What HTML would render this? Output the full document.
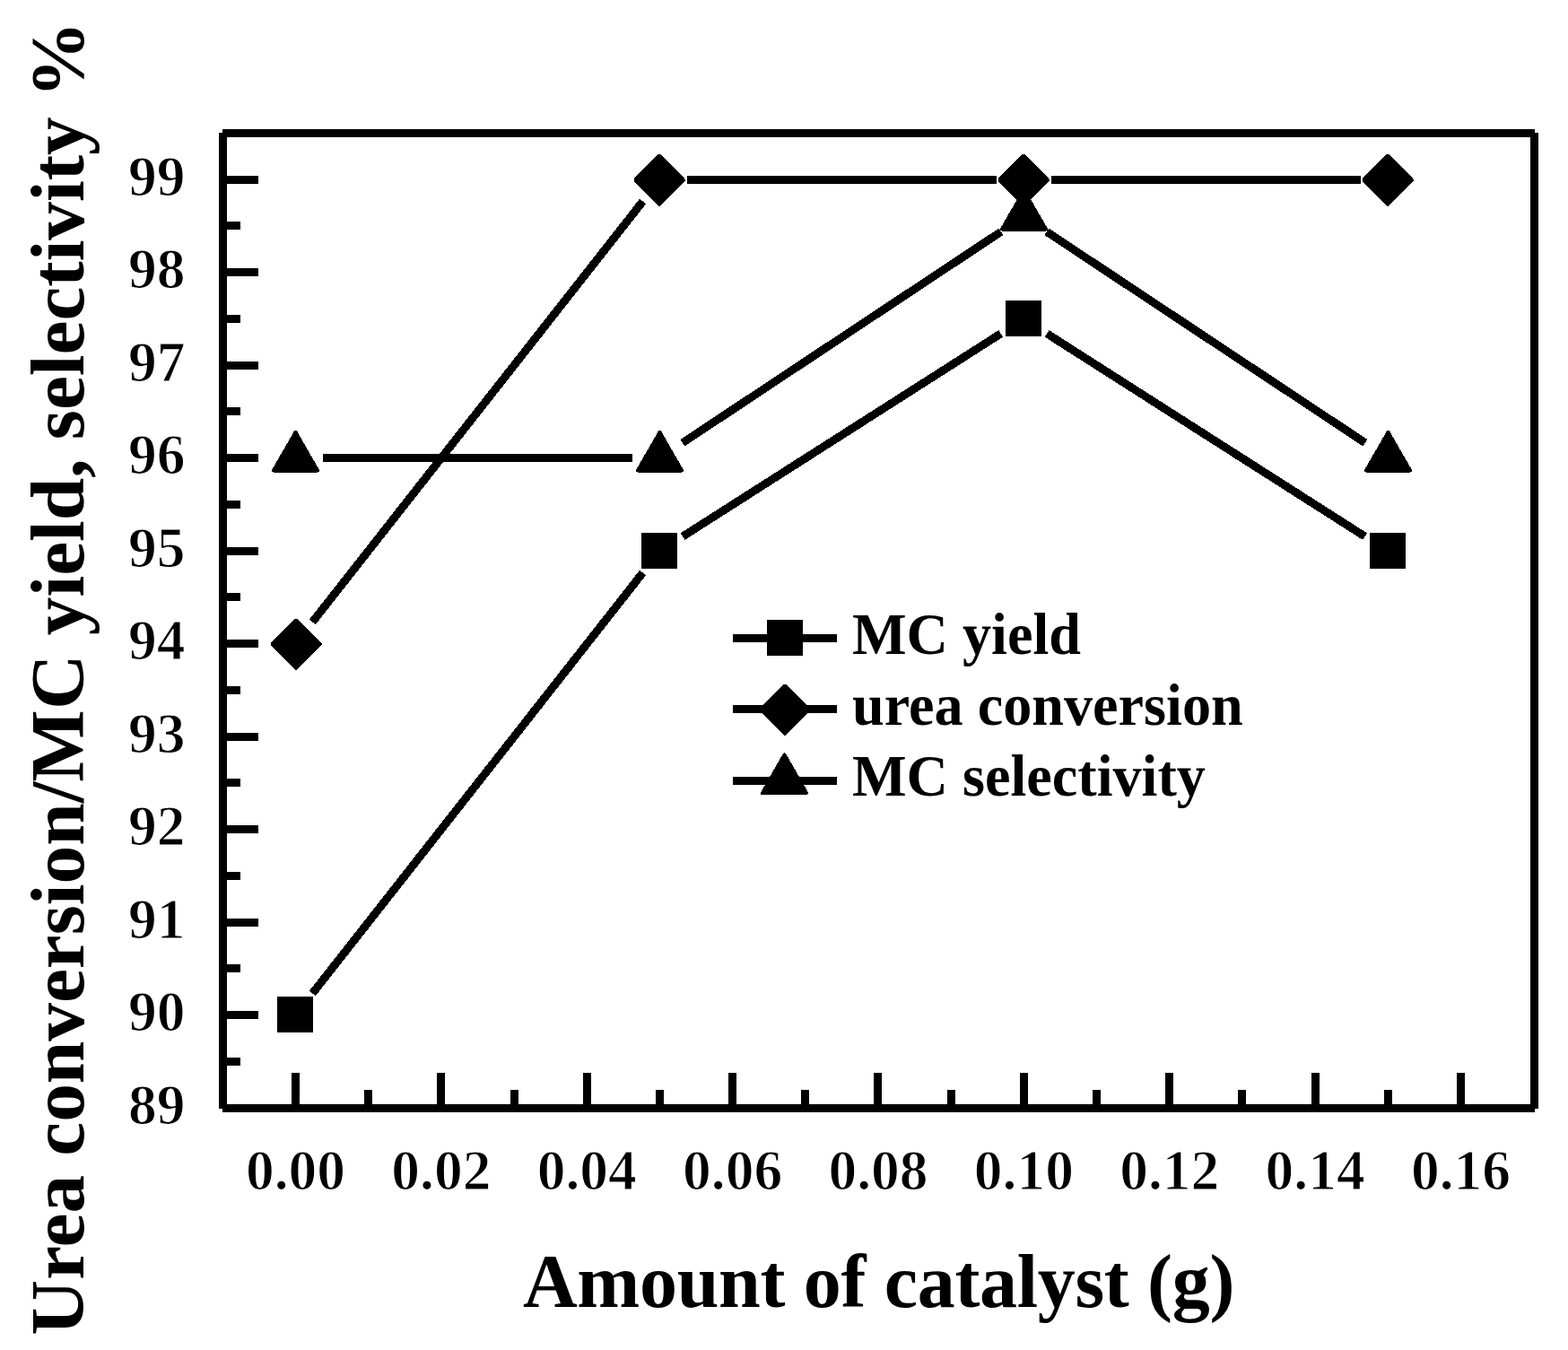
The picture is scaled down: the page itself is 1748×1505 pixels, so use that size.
<!DOCTYPE html>
<html lang="en"><head><meta charset="utf-8"><title>Urea conversion / MC yield, selectivity vs amount of catalyst</title>
<style>
html,body{margin:0;padding:0;background:#fff;}
body{width:1748px;height:1505px;overflow:hidden;}
svg{display:block;}
text{font-family:"Liberation Serif",serif;font-weight:bold;fill:#000;}
.ax rect,.tk rect,.ln line,.mk *{shape-rendering:crispEdges;}
.ln line{stroke:#000;stroke-width:9;stroke-linecap:butt;}
.mk *{fill:#000;stroke:#000;stroke-linejoin:round;}
.tl{font-size:63.5px;stroke:#fff;stroke-width:1.2px;}
.lg{font-size:64.2px;}
.ti{font-size:84px;}
.ty{font-size:85.3px;}
</style></head><body>
<svg width="1748" height="1505" viewBox="0 0 1748 1505">
<rect x="0" y="0" width="1748" height="1505" fill="#fff"/>
<g class="ax" fill="#000">
<rect x="244" y="148" width="9" height="1088"/>
<rect x="248" y="144" width="1463" height="9"/>
<rect x="1706" y="148" width="9" height="1088"/>
<rect x="248" y="1231" width="1463" height="9"/>
</g>
<g class="tk" fill="#000">
<rect x="253" y="1179" width="15" height="9"/>
<rect x="253" y="1127" width="35" height="9"/>
<rect x="253" y="1075" width="15" height="9"/>
<rect x="253" y="1024" width="35" height="9"/>
<rect x="253" y="972" width="15" height="9"/>
<rect x="253" y="920" width="35" height="9"/>
<rect x="253" y="868" width="15" height="9"/>
<rect x="253" y="817" width="35" height="9"/>
<rect x="253" y="765" width="15" height="9"/>
<rect x="253" y="713" width="35" height="9"/>
<rect x="253" y="661" width="15" height="9"/>
<rect x="253" y="610" width="35" height="9"/>
<rect x="253" y="558" width="15" height="9"/>
<rect x="253" y="506" width="35" height="9"/>
<rect x="253" y="454" width="15" height="9"/>
<rect x="253" y="403" width="35" height="9"/>
<rect x="253" y="351" width="15" height="9"/>
<rect x="253" y="299" width="35" height="9"/>
<rect x="253" y="247" width="15" height="9"/>
<rect x="253" y="196" width="35" height="9"/>
<rect x="325" y="1196" width="9" height="35"/>
<rect x="406" y="1215" width="9" height="16"/>
<rect x="487" y="1196" width="9" height="35"/>
<rect x="569" y="1215" width="9" height="16"/>
<rect x="650" y="1196" width="9" height="35"/>
<rect x="731" y="1215" width="9" height="16"/>
<rect x="812" y="1196" width="9" height="35"/>
<rect x="893" y="1215" width="9" height="16"/>
<rect x="974" y="1196" width="9" height="35"/>
<rect x="1056" y="1215" width="9" height="16"/>
<rect x="1137" y="1196" width="9" height="35"/>
<rect x="1218" y="1215" width="9" height="16"/>
<rect x="1299" y="1196" width="9" height="35"/>
<rect x="1380" y="1215" width="9" height="16"/>
<rect x="1462" y="1196" width="9" height="35"/>
<rect x="1543" y="1215" width="9" height="16"/>
<rect x="1624" y="1196" width="9" height="35"/>
</g>
<g class="tl">
<text x="206.5" y="1252.5" text-anchor="end">89</text>
<text x="206.5" y="1149.0" text-anchor="end">90</text>
<text x="206.5" y="1045.5" text-anchor="end">91</text>
<text x="206.5" y="942.0" text-anchor="end">92</text>
<text x="206.5" y="838.5" text-anchor="end">93</text>
<text x="206.5" y="735.0" text-anchor="end">94</text>
<text x="206.5" y="631.5" text-anchor="end">95</text>
<text x="206.5" y="528.0" text-anchor="end">96</text>
<text x="206.5" y="424.5" text-anchor="end">97</text>
<text x="206.5" y="321.0" text-anchor="end">98</text>
<text x="206.5" y="217.5" text-anchor="end">99</text>
<text x="329.5" y="1325.5" text-anchor="middle">0.00</text>
<text x="491.9" y="1325.5" text-anchor="middle">0.02</text>
<text x="654.2" y="1325.5" text-anchor="middle">0.04</text>
<text x="816.6" y="1325.5" text-anchor="middle">0.06</text>
<text x="979.0" y="1325.5" text-anchor="middle">0.08</text>
<text x="1141.4" y="1325.5" text-anchor="middle">0.10</text>
<text x="1303.8" y="1325.5" text-anchor="middle">0.12</text>
<text x="1466.1" y="1325.5" text-anchor="middle">0.14</text>
<text x="1628.5" y="1325.5" text-anchor="middle">0.16</text>
</g>
<text class="ti" x="583" y="1457" textLength="793.4" lengthAdjust="spacing">Amount of catalyst (g)</text>
<text class="ty" transform="translate(93,756) rotate(-90)" text-anchor="middle" textLength="1464.8" lengthAdjust="spacing">Urea conversion/MC yield, selectivity %</text>
<g class="ln">
<line x1="348.3" y1="1107.5" x2="716.6" y2="638.5"/>
<line x1="761.1" y1="598.1" x2="1115.7" y2="371.9"/>
<line x1="1167.1" y1="371.9" x2="1521.6" y2="598.1"/>
<line x1="348.3" y1="693.5" x2="716.6" y2="224.5"/>
<line x1="765.9" y1="200.5" x2="1110.9" y2="200.5"/>
<line x1="1171.9" y1="200.5" x2="1516.8" y2="200.5"/>
<line x1="360.0" y1="510.5" x2="704.9" y2="510.5"/>
<line x1="760.9" y1="493.7" x2="1116.0" y2="258.3"/>
<line x1="1166.8" y1="258.3" x2="1521.9" y2="493.7"/>
<line x1="817" y1="711.5" x2="933" y2="711.5"/>
<line x1="817" y1="790.5" x2="933" y2="790.5"/>
<line x1="817" y1="870.5" x2="933" y2="870.5"/>
</g>
<g class="mk">
<rect x="310.0" y="1112.0" width="38" height="38" stroke-width="2"/>
<rect x="716.0" y="595.0" width="38" height="38" stroke-width="2"/>
<rect x="1122.0" y="336.0" width="38" height="38" stroke-width="2"/>
<rect x="1528.0" y="595.0" width="38" height="38" stroke-width="2"/>
<polygon points="329,690 331,690 358,717 358,719 331,746 329,746 302,719 302,717" stroke="none"/>
<polygon points="734,172 736,172 763,199.5 763,201.5 736,229 734,229 707,201.5 707,199.5" stroke="none"/>
<polygon points="1140,172 1142,172 1169,199.5 1169,201.5 1142,229 1140,229 1113,201.5 1113,199.5" stroke="none"/>
<polygon points="1546,172 1548,172 1575,199.5 1575,201.5 1548,229 1546,229 1519,201.5 1519,199.5" stroke="none"/>
<polygon points="329.5,482.0 354.0,524.5 305.0,524.5" stroke-width="4"/>
<polygon points="735.5,482.0 760.0,524.5 711.0,524.5" stroke-width="4"/>
<polygon points="1141.5,213.0 1166.0,255.5 1117.0,255.5" stroke-width="4"/>
<polygon points="1547.5,482.0 1572.0,524.5 1523.0,524.5" stroke-width="4"/>
<rect x="856.0" y="692.0" width="38" height="38" stroke-width="2"/>
<polygon points="874,763 876,763 903,790 903,792 876,819 874,819 847,792 847,790" stroke="none"/>
<polygon points="874.5,841.5 899.0,884.0 850.0,884.0" stroke-width="4"/>
</g>
<g class="lg">
<text transform="translate(950,729) scale(1,1.03)" textLength="255" lengthAdjust="spacing">MC yield</text>
<text transform="translate(950,808) scale(1,1.03)" textLength="435.7" lengthAdjust="spacing">urea conversion</text>
<text transform="translate(950,887) scale(1,1.03)" textLength="393.9" lengthAdjust="spacing">MC selectivity</text>
</g>
</svg>
</body></html>
